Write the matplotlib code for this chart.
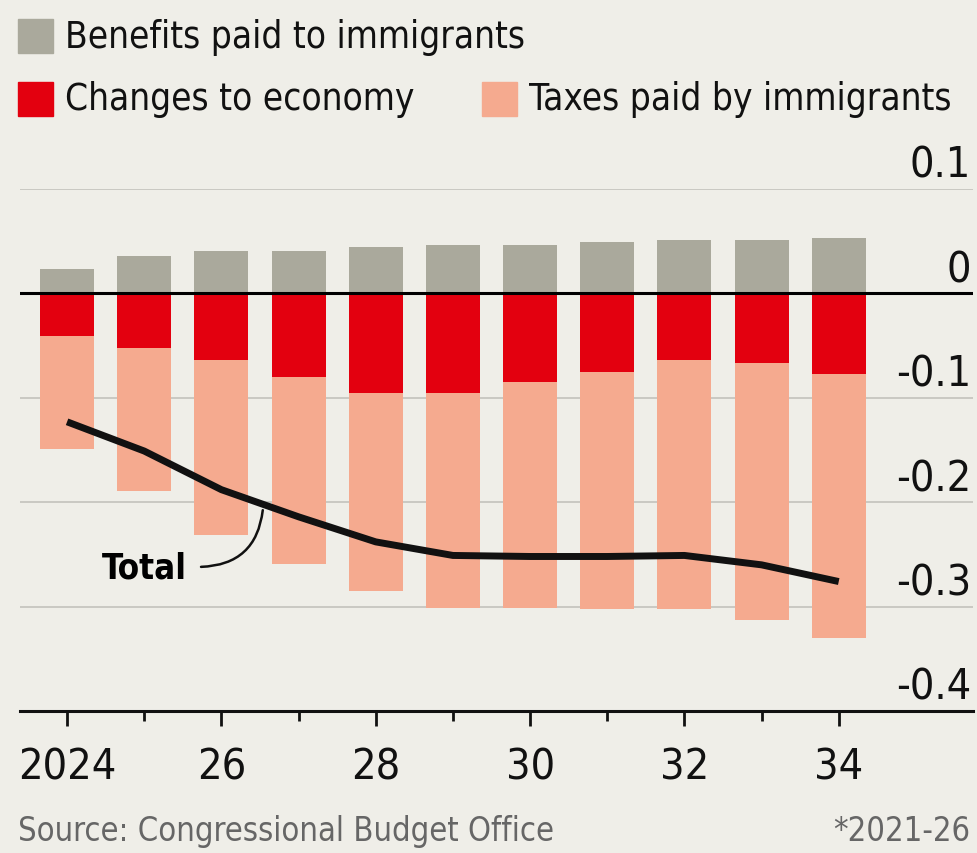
import matplotlib
matplotlib.use("Agg")
import matplotlib.pyplot as plt
from matplotlib.patches import Rectangle
from matplotlib.transforms import blended_transform_factory

# Data (% of GDP)
years = [2024, 2025, 2026, 2027, 2028, 2029, 2030, 2031, 2032, 2033, 2034]
benefits = [0.023, 0.036, 0.041, 0.041, 0.044, 0.046, 0.046, 0.049, 0.051, 0.051, 0.053]
economy = [-0.041, -0.052, -0.064, -0.080, -0.095, -0.095, -0.085, -0.075, -0.064, -0.067, -0.077]
taxes = [-0.108, -0.137, -0.167, -0.179, -0.190, -0.206, -0.216, -0.227, -0.238, -0.246, -0.253]
total = [-0.123, -0.151, -0.188, -0.214, -0.238, -0.251, -0.252, -0.252, -0.251, -0.260, -0.276]
xtick_years = [2024, 2026, 2028, 2030, 2032, 2034]
xtick_labels = ["2024", "26", "28", "30", "32", "34"]
yticks = [0.1, 0, -0.1, -0.2, -0.3, -0.4]
ytick_labels = ["0.1", "0", "-0.1", "-0.2", "-0.3", "-0.4"]

BG = "#efeee8"
GREY = "#aaa99c"
RED = "#e3000f"
SALMON = "#f5aa8f"
GRID = "#c9c8c2"

plt.rcParams["font.family"] = ["DejaVu Sans"]
plt.rcParams["font.stretch"] = "condensed"

W, H = 978, 854
fig = plt.figure(figsize=(W / 100, H / 100), dpi=100, facecolor=BG)
ax = fig.add_axes([20 / W, (H - 712) / H, (973 - 20) / W, (712 - 190) / H])
ax.set_facecolor(BG)
ax.set_xlim(2023.39, 2035.74)
ax.set_ylim(-0.4, 0.1)

# gridlines
for v in [0.1, -0.1, -0.2, -0.3]:
    ax.axhline(v, color=GRID, lw=1.4, zorder=0)

width = 0.70
ax.bar(years, benefits, width, color=GREY, zorder=2)
ax.bar(years, economy, width, color=RED, zorder=2)
ax.bar(years, taxes, width, bottom=economy, color=SALMON, zorder=2)

ax.axhline(0, color="black", lw=2.2, zorder=3)

ax.plot(years, total, color="#111111", lw=5, solid_capstyle="butt",
        solid_joinstyle="round", zorder=4)

# "Total" label with connector
ax.text(2025.55, -0.2625, "Total", fontsize=25, fontweight="bold",
        ha="right", va="center", zorder=5)
ax.annotate("", xy=(2026.54, -0.205), xytext=(2025.7, -0.262),
            arrowprops=dict(arrowstyle="-", color="#111111", lw=1.8,
                            connectionstyle="arc3,rad=0.45"),
            zorder=5)

# axes styling
for s in ["top", "right", "left"]:
    ax.spines[s].set_visible(False)
ax.spines["bottom"].set_linewidth(2.2)
ax.spines["bottom"].set_color("#111111")
ax.set_yticks([])
ax.set_xticks(xtick_years)
ax.set_xticklabels(xtick_labels, fontsize=31)
ax.set_xticks(years, minor=True)
ax.tick_params(axis="x", which="major", length=11, width=2, direction="out",
               pad=14, colors="#111111")
ax.tick_params(axis="x", which="minor", length=7, width=2, direction="out",
               colors="#111111")

# y labels on the right, sitting above the gridlines
trans = blended_transform_factory(ax.transAxes, ax.transData)
for v, lab in zip(yticks, ytick_labels):
    ax.text(0.998, v + 0.003, lab, transform=trans, ha="right", va="bottom",
            fontsize=31, color="#111111")

# legend
def legend_item(x, y, color, label):
    fig.patches.append(Rectangle((x / W, (H - y - 34) / H), 35 / W, 34 / H,
                                 transform=fig.transFigure, color=color))
    fig.text((x + 47) / W, (H - y - 17) / H, label, fontsize=26.5,
             ha="left", va="center", color="#111111")

legend_item(18, 20, GREY, "Benefits paid to immigrants")
legend_item(18, 83, RED, "Changes to economy")
legend_item(482, 83, SALMON, "Taxes paid by immigrants")

# footer
fig.text(18 / W, (H - 832) / H, "Source: Congressional Budget Office",
         fontsize=23.5, color="#666666", ha="left", va="center")
fig.text(970 / W, (H - 832) / H, "*2021-26", fontsize=23.5, color="#666666",
         ha="right", va="center")

fig.savefig("out.png", dpi=100, facecolor=BG)
